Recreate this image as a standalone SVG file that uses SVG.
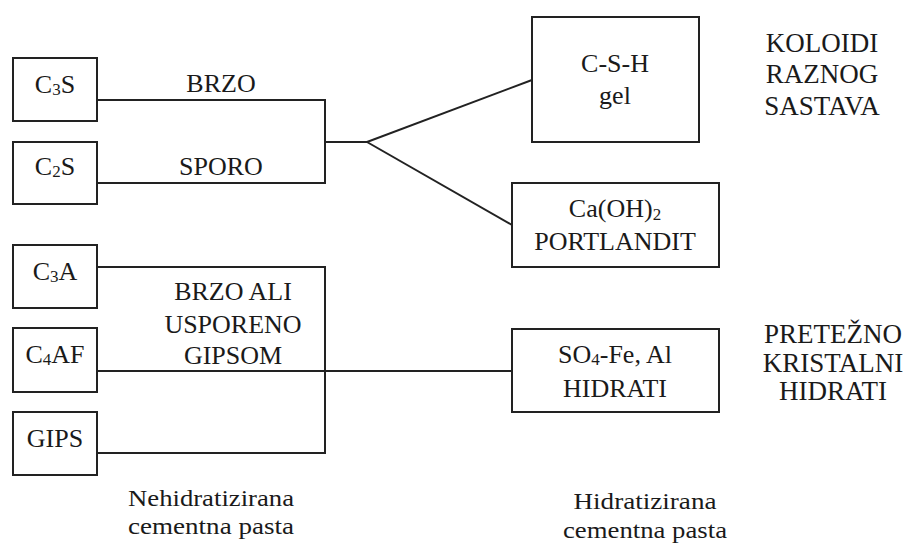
<svg xmlns="http://www.w3.org/2000/svg" width="908" height="545" viewBox="0 0 908 545">
<style>
.box{fill:#fff;stroke:#222;stroke-width:2}
.ln{fill:none;stroke:#222;stroke-width:2}
text{font-family:"Liberation Serif","DejaVu Serif",serif;font-size:26px;fill:#1a1a1a;text-anchor:middle}
.big{font-size:27px}
.sm{font-size:24px}
.sub{font-size:17px}
</style>
<rect width="908" height="545" fill="#fff"/>
<g id="connectors">
<polyline class="ln" points="97,100 325,100 325,183 97,183"/>
<line class="ln" x1="325" y1="142" x2="367" y2="142"/>
<line class="ln" x1="367" y1="142" x2="532" y2="80"/>
<line class="ln" x1="367" y1="142" x2="512" y2="225"/>
<polyline class="ln" points="97,267 325,267 325,453 97,453"/>
<line class="ln" x1="97" y1="371" x2="512" y2="371"/>
<text x="221" y="92">BRZO</text>
<text x="221" y="175">SPORO</text>
<text x="233" y="300">BRZO ALI</text>
<text x="233" y="333">USPORENO</text>
<text x="233" y="364">GIPSOM</text>
</g>
<g id="c3s"><rect class="box" x="13" y="58" width="84" height="63"/><text x="55" y="93">C<tspan class="sub" dy="2">3</tspan><tspan dy="-2">S</tspan></text></g>
<g id="c2s"><rect class="box" x="13" y="142" width="84" height="62"/><text x="55" y="175">C<tspan class="sub" dy="2">2</tspan><tspan dy="-2">S</tspan></text></g>
<g id="c3a"><rect class="box" x="13" y="245" width="84" height="63"/><text x="55" y="280">C<tspan class="sub" dy="2">3</tspan><tspan dy="-2">A</tspan></text></g>
<g id="c4af"><rect class="box" x="13" y="328" width="84" height="64"/><text x="55" y="363">C<tspan class="sub" dy="2">4</tspan><tspan dy="-2">AF</tspan></text></g>
<g id="gips"><rect class="box" x="13" y="412" width="84" height="63"/><text x="55" y="447">GIPS</text></g>
<g id="csh"><rect class="box" x="532" y="17" width="167" height="125"/><text x="615" y="72">C-S-H</text><text x="615" y="104">gel</text></g>
<g id="caoh"><rect class="box" x="512" y="183" width="207" height="84"/><text x="615" y="217">Ca(OH)<tspan class="sub" dy="3">2</tspan></text><text x="615" y="250">PORTLANDIT</text></g>
<g id="so4"><rect class="box" x="512" y="329" width="207" height="83"/><text x="615" y="363">SO<tspan class="sub" dy="2">4</tspan><tspan dy="-2">-Fe, Al</tspan></text><text x="615" y="397">HIDRATI</text></g>
<g id="koloidi"><text class="big" x="822" y="52">KOLOIDI</text><text class="big" x="822" y="83">RAZNOG</text><text class="big" x="822" y="115">SASTAVA</text></g>
<g id="pretezno"><text class="big" x="833" y="343">PRETEŽNO</text><text class="big" x="833" y="372">KRISTALNI</text><text class="big" x="833" y="400">HIDRATI</text></g>
<g id="nehidr"><text class="sm" x="211" y="506" textLength="166" lengthAdjust="spacingAndGlyphs">Nehidratizirana</text><text class="sm" x="211" y="534" textLength="166" lengthAdjust="spacingAndGlyphs">cementna pasta</text></g>
<g id="hidr"><text class="sm" x="645" y="509" textLength="143" lengthAdjust="spacingAndGlyphs">Hidratizirana</text><text class="sm" x="645" y="538" textLength="164" lengthAdjust="spacingAndGlyphs">cementna pasta</text></g>
</svg>
